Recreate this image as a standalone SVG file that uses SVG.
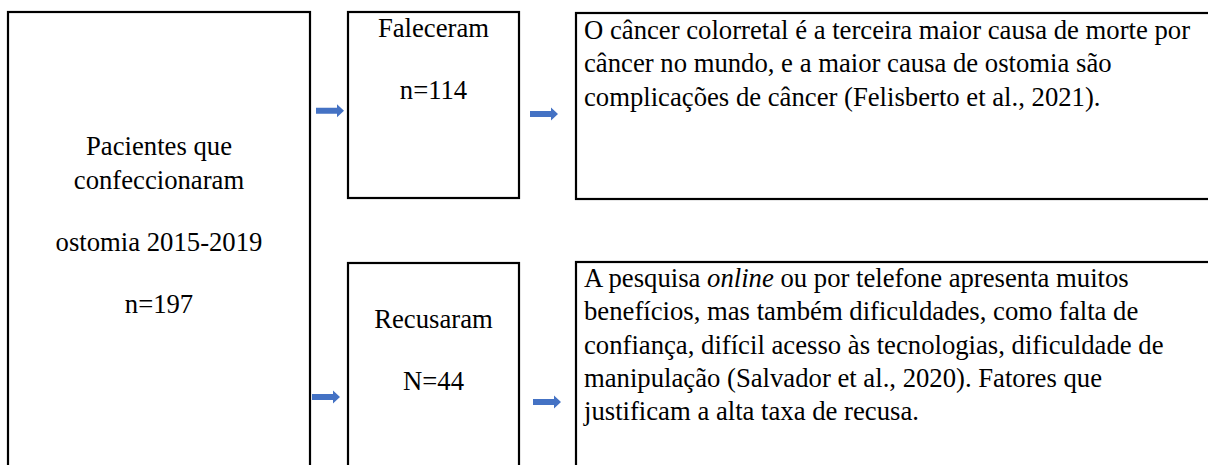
<svg xmlns="http://www.w3.org/2000/svg" xmlns:xlink="http://www.w3.org/1999/xlink" width="1208" height="465" viewBox="0 0 1208 465">
<style>
.box{fill:#fff;stroke:#000;stroke-width:2.2}
.t{font-family:"Liberation Serif","Times New Roman",serif;font-size:26.7px;fill:#000}
.c{text-anchor:middle}
.arr{fill:#4472C4}
</style>
<defs>
<path id="arrow" d="M0,-3 H21 V-6.5 L28,0 L21,6.5 V3 H0 Z"/>
</defs>
<rect width="1208" height="465" fill="#fff"/>
<g id="pacientes">
<rect class="box" x="8" y="12" width="302" height="480"/>
<text class="t c" x="159" y="155">Pacientes que</text>
<text class="t c" x="159" y="189">confeccionaram</text>
<text class="t c" x="159" y="251">ostomia 2015-2019</text>
<text class="t c" x="159" y="313">n=197</text>
</g>
<g id="faleceram">
<rect class="box" x="348" y="12" width="171" height="186"/>
<text class="t c" x="433.5" y="37">Faleceram</text>
<text class="t c" x="433.5" y="99">n=114</text>
</g>
<g id="recusaram">
<rect class="box" x="348" y="263" width="171" height="230"/>
<text class="t c" x="433.5" y="328">Recusaram</text>
<text class="t c" x="433.5" y="390">N=44</text>
</g>
<g id="nota-cancer">
<rect class="box" x="576" y="13" width="640" height="186"/>
<text class="t" x="584" y="39">O câncer colorretal é a terceira maior causa de morte por</text>
<text class="t" x="584" y="72.3">câncer no mundo, e a maior causa de ostomia são</text>
<text class="t" x="584" y="105.6">complicações de câncer (Felisberto et al., 2021).</text>
</g>
<g id="nota-recusa">
<rect class="box" x="576" y="262" width="640" height="230"/>
<text class="t" x="584" y="287">A pesquisa <tspan font-style="italic">online</tspan> ou por telefone apresenta muitos</text>
<text class="t" x="584" y="320.3">benefícios, mas também dificuldades, como falta de</text>
<text class="t" x="584" y="353.6">confiança, difícil acesso às tecnologias, dificuldade de</text>
<text class="t" x="584" y="386.9">manipulação (Salvador et al., 2020). Fatores que</text>
<text class="t" x="584" y="420.2">justificam a alta taxa de recusa.</text>
</g>
<g id="connectors">
<use class="arr" xlink:href="#arrow" x="316" y="110.7"/>
<use class="arr" xlink:href="#arrow" x="530" y="114"/>
<use class="arr" xlink:href="#arrow" x="312" y="397"/>
<use class="arr" xlink:href="#arrow" x="533" y="402"/>
</g>
</svg>
